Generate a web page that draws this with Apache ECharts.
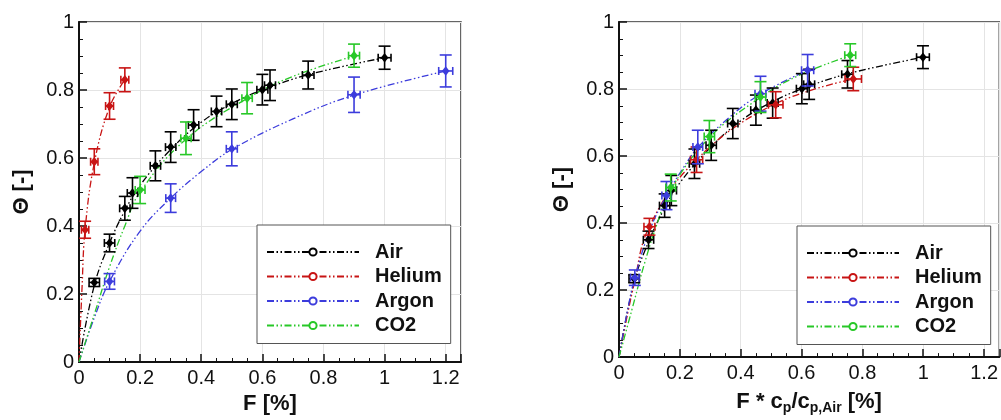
<!DOCTYPE html>
<html>
<head>
<meta charset="utf-8">
<script src="https://cdn.jsdelivr.net/npm/echarts@6/dist/echarts.min.js"></script>
<style>
html,body{margin:0;padding:0;background:#fff;}
#chart{width:1001px;height:420px;}
</style>
</head>
<body>
<div id="chart"></div>
<script>
// ---------- data ----------
const gasNames = ['Air', 'Helium', 'Argon', 'CO2'];
const gasColors = ['#000000', '#c81414', '#3c3cdc', '#28c828'];

const xTicks = [0, 0.2, 0.4, 0.6, 0.8, 1, 1.2];
const yTicks = [0, 0.2, 0.4, 0.6, 0.8, 1];

// Air (measurements)
const airF        = [0.05, 0.10, 0.15, 0.175, 0.25, 0.30, 0.375, 0.45, 0.50, 0.60, 0.625, 0.75, 1.00];
const airFcp      = [0.05, 0.097, 0.15, 0.172, 0.248, 0.303, 0.374, 0.45, 0.505, 0.601, 0.625, 0.751, 0.999];
const airTheta    = [0.234, 0.350, 0.452, 0.497, 0.577, 0.632, 0.697, 0.737, 0.758, 0.801, 0.814, 0.844, 0.895];
const airErrTheta = [0.012, 0.026, 0.035, 0.045, 0.044, 0.045, 0.045, 0.045, 0.045, 0.045, 0.045, 0.041, 0.034];
const airErrF     = [0.017, 0.017, 0.017, 0.017, 0.017, 0.017, 0.017, 0.017, 0.018, 0.018, 0.018, 0.019, 0.021];

// Helium (measurements)
const heF         = [0.02, 0.05, 0.10, 0.15];
const heFcp       = [0.10, 0.255, 0.515, 0.770];
const heTheta     = [0.389, 0.589, 0.753, 0.830];
const heErrTheta  = [0.025, 0.038, 0.039, 0.035];
const heErrF      = [0.012, 0.012, 0.013, 0.013];
const heErrFcp    = [0.018, 0.020, 0.024, 0.027];

// Argon (measurements)
const arF         = [0.10, 0.30, 0.50, 0.90, 1.20];
const arFcp       = [0.052, 0.156, 0.259, 0.465, 0.620];
const arTheta     = [0.237, 0.482, 0.627, 0.786, 0.856];
const arErrTheta  = [0.023, 0.042, 0.050, 0.052, 0.047];
const arErrF      = [0.016, 0.016, 0.018, 0.020, 0.023];
const arErrFcp    = [0.014, 0.015, 0.016, 0.018, 0.020];

// CO2 (measurements)
const co2F        = [0.20, 0.35, 0.55, 0.90];
const co2Fcp      = [0.170, 0.297, 0.465, 0.760];
const co2Theta    = [0.506, 0.658, 0.776, 0.901];
const co2ErrTheta = [0.040, 0.048, 0.046, 0.034];
const co2ErrF     = [0.016, 0.017, 0.017, 0.018];

// Fitted curves
const airFitF       = [0, 0.05, 0.10, 0.15, 0.20, 0.30, 0.40, 0.50, 0.60, 0.75, 1.00];
const airFitTheta   = [0, 0.225, 0.350, 0.445, 0.520, 0.625, 0.705, 0.760, 0.800, 0.845, 0.895];
const airFitFcp     = [0, 0.05, 0.10, 0.15, 0.20, 0.30, 0.40, 0.50, 0.60, 0.75, 1.00];

const heFitF        = [0, 0.01, 0.02, 0.05, 0.10, 0.15];
const heFitFcp      = [0, 0.05, 0.10, 0.25, 0.50, 0.77];
const heFitTheta    = [0, 0.220, 0.390, 0.585, 0.750, 0.830];

const arFitF        = [0, 0.05, 0.10, 0.20, 0.30, 0.40, 0.50, 0.70, 0.90, 1.20];
const arFitFcp      = [0, 0.026, 0.052, 0.104, 0.156, 0.208, 0.259, 0.362, 0.465, 0.620];
const arFitTheta    = [0, 0.130, 0.237, 0.385, 0.482, 0.560, 0.625, 0.715, 0.785, 0.856];

const co2FitF       = [0, 0.05, 0.10, 0.15, 0.20, 0.35, 0.55, 0.70, 0.90];
const co2FitFcp     = [0, 0.042, 0.084, 0.126, 0.170, 0.297, 0.465, 0.590, 0.760];
const co2FitTheta   = [0, 0.140, 0.280, 0.400, 0.500, 0.655, 0.775, 0.840, 0.900];

// ---------- helpers ----------
const FONT = '"Liberation Sans", Arial, Helvetica, sans-serif';
const DASH = [7, 2.5, 1.5, 2.5, 1.5, 2.5];

function zip4(x, y, ex, ey) {
  return x.map((v, i) => [v, y[i], ex[i], ey[i]]);
}
function pairs(x, y) {
  return x.map((v, i) => [v, y[i]]);
}

function errRender(color) {
  return function (params, api) {
    const x = api.value(0), y = api.value(1), ex = api.value(2), ey = api.value(3);
    const c = api.coord([x, y]);
    const t = api.coord([x, y + ey]);
    const b = api.coord([x, y - ey]);
    const l = api.coord([x - ex, y]);
    const r = api.coord([x + ex, y]);
    const cw = 6, ch = 4, m = 3.8;
    const st = { stroke: color, lineWidth: 1.6, fill: null };
    const ln = (x1, y1, x2, y2) => ({ type: 'line', shape: { x1, y1, x2, y2 }, style: st });
    return {
      type: 'group',
      children: [
        ln(c[0], t[1], c[0], b[1]),
        ln(c[0] - cw, t[1], c[0] + cw, t[1]),
        ln(c[0] - cw, b[1], c[0] + cw, b[1]),
        ln(l[0], c[1], r[0], c[1]),
        ln(l[0], c[1] - ch, l[0], c[1] + ch),
        ln(r[0], c[1] - ch, r[0], c[1] + ch),
        { type: 'polygon', shape: { points: [[c[0], c[1] - m - 1], [c[0] + m, c[1]], [c[0], c[1] + m + 1], [c[0] - m, c[1]]] },
          style: { fill: color, stroke: null } }
      ]
    };
  };
}

function makeSeries(gi, name, color, fitX, fitY, fx, th, exArr, eyArr) {
  return [
    {
      name: name, type: 'line', xAxisIndex: gi, yAxisIndex: gi,
      data: pairs(fitX, fitY), smooth: 0.4,
      symbol: 'emptyCircle', showSymbol: false, symbolSize: 7,
      lineStyle: { color: color, width: 1.3, type: DASH },
      itemStyle: { color: color },
      silent: true, z: 2
    },
    {
      name: name, type: 'custom', xAxisIndex: gi, yAxisIndex: gi,
      data: zip4(fx, th, exArr, eyArr),
      renderItem: errRender(color),
      itemStyle: { color: color },
      silent: true, z: 3
    }
  ];
}

function xAxisCfg(gi, name) {
  return {
    type: 'value', gridIndex: gi, min: 0, max: 1.25, interval: 0.2,
    name: name, nameLocation: 'middle', nameGap: 29,
    nameTextStyle: { fontSize: 22, fontWeight: 'bold', color: '#111', fontFamily: FONT,
      rich: {
        m: { fontSize: 22, fontWeight: 'bold', color: '#111', fontFamily: FONT, lineHeight: 26 },
        s: { fontSize: 14, fontWeight: 'bold', color: '#111', fontFamily: FONT, lineHeight: 14, padding: [13, 0, 0, 0], verticalAlign: 'bottom' }
      } },
    axisLine: { show: true, onZero: false, lineStyle: { color: '#111', width: 2 } },
    axisTick: { show: true, inside: true, length: 8, lineStyle: { color: '#111', width: 1.5 } },
    minorTick: { show: true, splitNumber: 4, length: 4, lineStyle: { color: '#111', width: 1 } },
    splitLine: { show: true, lineStyle: { color: '#e4e4e4', width: 1 } },
    axisLabel: { fontSize: 20, color: '#111', fontFamily: FONT, margin: 6, showMaxLabel: false }
  };
}
function yAxisCfg(gi) {
  return {
    type: 'value', gridIndex: gi, min: 0, max: 1, interval: 0.2,
    name: 'Θ [-]', nameLocation: 'middle', nameGap: 46, nameRotate: 90,
    nameTextStyle: { fontSize: 22, fontWeight: 'bold', color: '#111', fontFamily: FONT },
    axisLine: { show: true, onZero: false, lineStyle: { color: '#111', width: 2 } },
    axisTick: { show: true, inside: true, length: 8, lineStyle: { color: '#111', width: 1.5 } },
    minorTick: { show: true, splitNumber: 4, length: 4, lineStyle: { color: '#111', width: 1 } },
    splitLine: { show: true, lineStyle: { color: '#e4e4e4', width: 1 } },
    axisLabel: { fontSize: 20, color: '#111', fontFamily: FONT, margin: 5 }
  };
}
function legendCfg(left, top) {
  return {
    orient: 'vertical', left: left, top: top, data: gasNames,
    itemWidth: 92, itemHeight: 9, itemGap: 4.5,
    padding: [17, 9, 8, 9],
    borderColor: '#555', borderWidth: 1, backgroundColor: '#fff',
    selectedMode: false,
    textStyle: { fontSize: 20, fontWeight: 'bold', color: '#111', fontFamily: FONT, lineHeight: 20, padding: [0, 0, 0, 11] }
  };
}

const series = [];
// left chart (F)
series.push(...makeSeries(0, gasNames[0], gasColors[0], airFitF, airFitTheta, airF, airTheta, airErrF, airErrTheta));
series.push(...makeSeries(0, gasNames[1], gasColors[1], heFitF, heFitTheta, heF, heTheta, heErrF, heErrTheta));
series.push(...makeSeries(0, gasNames[2], gasColors[2], arFitF, arFitTheta, arF, arTheta, arErrF, arErrTheta));
series.push(...makeSeries(0, gasNames[3], gasColors[3], co2FitF, co2FitTheta, co2F, co2Theta, co2ErrF, co2ErrTheta));
// right chart (F * cp / cp,Air)
series.push(...makeSeries(1, gasNames[0], gasColors[0], airFitFcp, airFitTheta, airFcp, airTheta, airErrF, airErrTheta));
series.push(...makeSeries(1, gasNames[1], gasColors[1], heFitFcp, heFitTheta, heFcp, heTheta, heErrFcp, heErrTheta));
series.push(...makeSeries(1, gasNames[2], gasColors[2], arFitFcp, arFitTheta, arFcp, arTheta, arErrFcp, arErrTheta));
series.push(...makeSeries(1, gasNames[3], gasColors[3], co2FitFcp, co2FitTheta, co2Fcp, co2Theta, co2ErrF, co2ErrTheta));

const chart = echarts.init(document.getElementById('chart'), null, { renderer: 'canvas' });
chart.setOption({
  animation: false,
  backgroundColor: '#fff',
  grid: [
    { left: 79, top: 22, width: 382, height: 340, show: true, borderColor: '#333', borderWidth: 1.5, backgroundColor: 'transparent', containLabel: false },
    { left: 619, top: 22, width: 381, height: 340, show: true, borderColor: '#333', borderWidth: 1.5, backgroundColor: 'transparent', containLabel: false }
  ],
  xAxis: [
    xAxisCfg(0, 'F [%]'),
    xAxisCfg(1, '{m|F * c}{s|p}{m|/c}{s|p,Air}{m| [%]}')
  ],
  yAxis: [yAxisCfg(0), yAxisCfg(1)],
  legend: [legendCfg(257, 225), legendCfg(797, 226)],
  series: series
});
</script>
</body>
</html>
